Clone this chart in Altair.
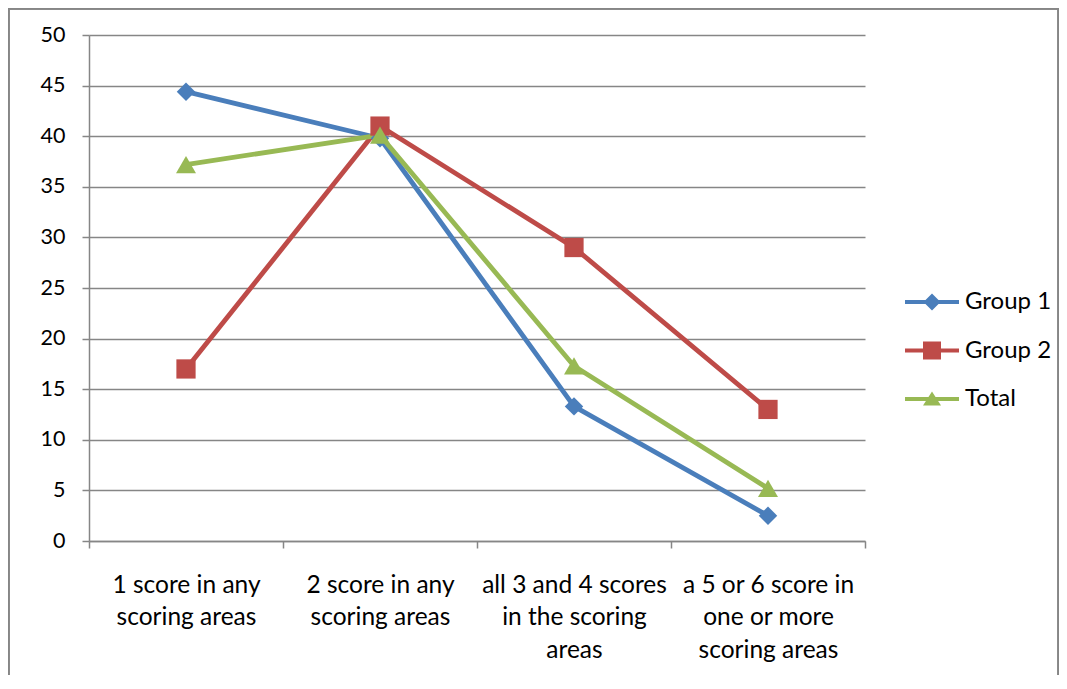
import altair as alt
import pandas as pd

categories = [
    "1 score in any|scoring areas",
    "2 score in any|scoring areas",
    "all 3 and 4 scores|in the scoring|areas",
    "a 5 or 6 score in|one or more|scoring areas",
]
series = ["Group 1", "Group 2", "Total"]
group1 = [44.4, 39.8, 13.3, 2.5]
group2 = [17.0, 41.0, 29.0, 13.0]
total = [37.2, 40.1, 17.3, 5.2]
y_ticks = [0, 5, 10, 15, 20, 25, 30, 35, 40, 45, 50]
colors = ["#4A7EBB", "#BE4B48", "#98B954"]
shapes = ["diamond", "square", "triangle-up"]
marker_sizes = [340, 400, 380]
# legend symbols: a short line with the marker on it
legend_shapes = [
    "M-2.7,-0.2H2.7V0.2H-2.7Z M0,-0.85L0.85,0L0,0.85L-0.85,0Z",
    "M-2.7,-0.2H2.7V0.2H-2.7Z M-0.9,-0.9H0.9V0.9H-0.9Z",
    "M-2.7,-0.2H2.7V0.2H-2.7Z M0,-0.75L0.9,0.65L-0.9,0.65Z",
]

rows = []
for name, vals in zip(series, [group1, group2, total]):
    for c, v in zip(categories, vals):
        rows.append({"category": c, "series": name, "value": v})
df = pd.DataFrame(rows)

FONT = "Lato"
GRAY = "#868686"

x_enc = alt.X(
    "category:N",
    sort=categories,
    bandPosition=0.5,
    scale=alt.Scale(type="band", domain=categories, paddingInner=0, paddingOuter=0),
    axis=alt.Axis(
        title=None,
        labelAngle=0,
        labelExpr="split(datum.label, '|')",
        labelFont=FONT,
        labelFontSize=24.5,
        labelColor="#000000",
        labelLineHeight=32.5,
        labelPadding=25,
        labelLimit=300,
        tickBand="extent",
        tickSize=7,
        tickColor=GRAY,
        tickWidth=1.5,
        domainColor=GRAY,
        domainWidth=1.5,
        grid=False,
    ),
)
y_enc = alt.Y(
    "value:Q",
    scale=alt.Scale(domain=[0, 50], nice=False, zero=True),
    axis=alt.Axis(
        title=None,
        values=y_ticks,
        grid=True,
        gridColor=GRAY,
        gridWidth=1.5,
        domainColor=GRAY,
        domainWidth=1.5,
        tickColor=GRAY,
        tickWidth=1.5,
        tickSize=7,
        labelPadding=17,
        labelFont=FONT,
        labelFontSize=21.5,
        labelColor="#000000",
    ),
)

color_scale = alt.Scale(domain=series, range=colors)

legend_def = alt.Legend(
    title=None,
    orient="none",
    legendX=831,
    legendY=255,
    padding=0,
    symbolSize=400,
    symbolOpacity=1,
    symbolStrokeWidth=0,
    rowPadding=24.5,
    labelOffset=21,
    labelFont=FONT,
    labelFontSize=24,
    labelColor="#000000",
    labelLimit=200,
)

lines = alt.Chart(df).mark_line(strokeWidth=4.8, strokeJoin="round", strokeCap="round").encode(
    x=x_enc,
    y=y_enc,
    color=alt.Color("series:N", scale=color_scale, legend=None),
)

points = alt.Chart(df).mark_point(filled=True, opacity=1).encode(
    x=x_enc,
    y=y_enc,
    color=alt.Color("series:N", scale=color_scale, legend=None),
    shape=alt.Shape("series:N", scale=alt.Scale(domain=series, range=shapes), legend=None),
    size=alt.Size("series:N", scale=alt.Scale(domain=series, range=marker_sizes), legend=None),
)

legend_layer = alt.Chart(df).transform_filter("false").mark_point(filled=True, opacity=1).encode(
    x=x_enc,
    y=y_enc,
    color=alt.Color("series:N", scale=color_scale, legend=legend_def),
    shape=alt.Shape("series:N", scale=alt.Scale(domain=series, range=legend_shapes), legend=legend_def),
)

frame_left = alt.Chart(df).mark_rule(color=GRAY, strokeWidth=1.5).encode(
    x=alt.value(-80.5), y=alt.value(-26.5), y2=alt.value(700)
)
frame_top = alt.Chart(df).mark_rule(color=GRAY, strokeWidth=1.5).encode(
    x=alt.value(-80.5), x2=alt.value(969.5), y=alt.value(-26.5)
)
frame_right = alt.Chart(df).mark_rule(color=GRAY, strokeWidth=1.5).encode(
    x=alt.value(969.5), y=alt.value(-26.5), y2=alt.value(700)
)

chart = alt.layer(
    frame_left, frame_top, frame_right, lines, points, legend_layer
).resolve_scale(shape="independent", color="independent").properties(
    width=776,
    height=506,
    autosize=alt.AutoSizeParams(type="none"),
    padding={"left": 81, "top": 27, "right": 194, "bottom": 134},
    background="#ffffff",
).configure_view(stroke=None)

chart.save("out.html", embed_options={"renderer": "svg", "actions": False})
